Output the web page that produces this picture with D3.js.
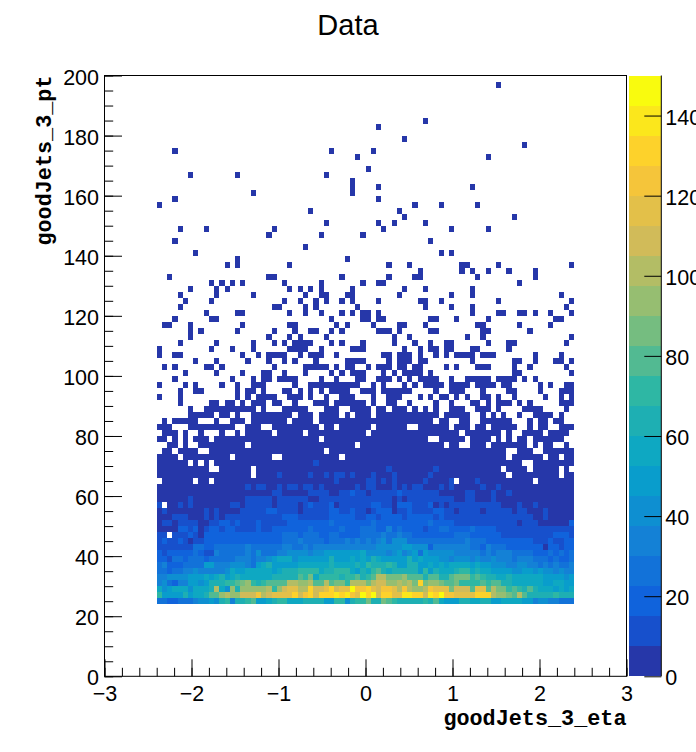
<!DOCTYPE html>
<html>
<head>
<meta charset="utf-8">
<title>Data</title>
<script src="https://d3js.org/d3.v7.min.js"></script>
<style>
    html, body { margin: 0; background: white; overflow: hidden; }
    text { font-family: "Liberation Sans", Arial, sans-serif; fill: black; }
    .axisTitle { font-family: "Liberation Mono", monospace; font-weight: bold; font-size: 21.8px; }
</style>
</head>
<body>
<div id="chart"></div>
<script>
// binning of the histogram
const etaRange = [-3, 3];
const ptRange = [0, 200];
const etaFirstEdge = -2.4;
const etaBin = 0.06;
const ptBin = 2;
const ptTop = 200;

const etaMajor = [-3, -2, -1, 0, 1, 2, 3];
const ptMajor = [0, 20, 40, 60, 80, 100, 120, 140, 160, 180, 200];
const zMajor = [0, 20, 40, 60, 80, 100, 120, 140];
const zMax = 150;
const zLevels = 20;
const birdStops = ["#351f87", "#0f5cdd", "#1481d6", "#06a4ca", "#2eb7a4", "#87bf77", "#d1bb59", "#fec832", "#f9fb0e"];

// low-count rows, top of the plot downwards: eta bins that hold any entries
const sparseRows = [
    [], [65], [], [], [], [], [], [51], [42], [], [47], [70],
    [3, 33, 41], [38, 63], [], [40], [6, 15, 32], [37], [37, 42, 60], [18, 37],
    [3, 42], [0, 49, 54, 61], [29, 46], [47, 68], [32, 42, 45, 51],
    [4, 9, 22, 43, 56, 63], [21, 31, 39], [3, 52], [28], [7, 54, 56],
    [15, 36],
    [13, 15, 25, 44, 48, 58, 59, 65, 79],
    [50, 58, 60, 63, 67, 72],
    [2, 21, 22, 35, 44, 49, 50, 61, 72],
    [10, 12, 14, 16, 24, 31, 39, 42, 43, 69],
    [6, 11, 13, 25, 27, 29, 31, 37, 47, 51, 60],
    [4, 11, 18, 28, 31, 32, 36, 37, 46, 56, 60, 77],
    [5, 10, 24, 27, 30, 32, 35, 37, 42, 50, 51, 54, 65, 79],
    [4, 22, 23, 28, 30, 38, 51, 56, 60, 78],
    [9, 15, 16, 25, 28, 31, 35, 37, 39, 40, 42, 60, 65, 66, 69, 70, 72, 75, 79],
    [3, 10, 11, 33, 39, 40, 42, 43, 52, 53, 57, 63, 76, 77],
    [1, 2, 6, 16, 25, 26, 34, 36, 41, 46, 47, 51, 61, 62, 69, 75],
    [6, 8, 15, 22, 26, 29, 30, 33, 35, 42, 43, 44, 46, 52, 53, 62, 63, 71],
    [6, 21, 25, 27, 32, 45, 48, 59, 62, 79],
    [4, 11, 18, 22, 24, 26, 27, 28, 29, 33, 35, 39, 45, 49, 52, 55, 56, 63, 67, 68, 78],
    [0, 10, 14, 18, 25, 26, 27, 28, 31, 37, 38, 39, 47, 50, 52, 53, 55, 56, 60, 61, 67],
    [0, 3, 4, 16, 19, 21, 22, 23, 24, 27, 29, 30, 31, 34, 43, 44, 46, 47, 48, 50, 53, 55, 57, 58, 59, 60, 62, 63, 64, 72, 77],
    [7, 11, 17, 21, 24, 26, 30, 36, 37, 38, 39, 44, 46, 47, 48, 50, 51, 60, 68, 69, 72, 76, 77, 79],
    [1, 3, 9, 10, 12, 22, 28, 29, 30, 31, 32, 34, 36, 37, 40, 42, 43, 44, 46, 47, 49, 50, 55, 57, 61, 62, 63, 68, 71, 78],
    [5, 11, 16, 20, 21, 24, 28, 33, 35, 37, 38, 39, 43, 45, 47, 48, 49, 50, 52, 68, 69, 79],
    [3, 14, 18, 20, 21, 23, 24, 25, 26, 31, 34, 38, 39, 42, 43, 44, 46, 48, 50, 51, 52, 53, 56, 59, 60, 61, 62, 63, 65, 66, 67, 68, 70, 72],
    [0, 5, 7, 12, 15, 18, 19, 20, 26, 29, 30, 31, 32, 33, 34, 35, 36, 37, 38, 41, 43, 47, 49, 51, 52, 53, 54, 56, 57, 58, 59, 61, 62, 63, 64, 66, 67, 73, 75, 78, 79],
    [4, 7, 8, 15, 17, 18, 20, 24, 25, 27, 29, 31, 33, 34, 35, 36, 39, 40, 41, 43, 44, 45, 46, 47, 48, 53, 56, 57, 58, 62, 67, 68, 73, 77, 78, 79],
    [0, 4, 15, 17, 19, 20, 21, 22, 25, 26, 27, 29, 32, 35, 36, 37, 41, 44, 45, 46, 50, 52, 54, 55, 57, 59, 62, 63, 65, 68, 74, 77, 79],
    [4, 10, 11, 13, 14, 16, 18, 19, 20, 22, 23, 26, 30, 31, 32, 34, 35, 36, 37, 38, 39, 41, 44, 45, 48, 53, 56, 60, 61, 63, 65, 66, 67, 69, 71, 77, 78, 79],
    [6, 9, 10, 11, 12, 13, 14, 15, 16, 17, 18, 20, 24, 25, 26, 27, 28, 32, 33, 34, 37, 38, 39, 40, 42, 43, 45, 46, 47, 49, 51, 53, 56, 57, 58, 61, 62, 63, 65, 70, 71, 72, 73, 78],
    [6, 7, 8, 9, 10, 12, 13, 15, 18, 19, 20, 21, 22, 23, 24, 25, 27, 28, 29, 31, 32, 33, 34, 36, 38, 39, 40, 42, 43, 44, 45, 46, 47, 48, 49, 50, 51, 52, 53, 55, 56, 57, 58, 59, 62, 64, 66, 69, 72, 73, 74, 75, 77],
    [1, 3, 4, 5, 6, 7, 11, 14, 15, 16, 18, 19, 20, 21, 22, 23, 24, 26, 27, 28, 29, 31, 32, 33, 34, 35, 36, 37, 38, 39, 40, 41, 42, 43, 44, 45, 46, 47, 48, 49, 50, 51, 52, 54, 55, 58, 59, 62, 63, 64, 65, 66, 67, 71, 73, 74, 76, 77],
    [0, 1, 2, 6, 7, 8, 9, 10, 11, 12, 13, 14, 17, 18, 19, 22, 23, 24, 25, 26, 27, 28, 29, 30, 32, 33, 35, 36, 37, 38, 39, 40, 42, 43, 44, 45, 46, 47, 50, 51, 52, 53, 54, 55, 57, 58, 59, 61, 62, 64, 65, 66, 67, 68, 71, 73, 74, 77, 78, 79]
];

// dense rows carry on below them: one character per eta bin, the z contour
// read off the colour (base 20), "." where the bin is empty
const denseRows = [
    ".000.0..0. ..0..0.000 00.00000.0 0000000000 .000000000 00000000.0 000000.0.. 0000.0000.",
    "00.0.0.000 .000000000 0000000000 0.00000000 0000000000 00..00000. 0000.0.0.0 0.000000..",
    "..00.0..00 0000000.00 0000000000 00000000.0 0000000000 00000.00.. 000.000000 0.0.00..0.",
    ".00.0000.. 0000000000 0000000000 00.0000000 0000000000 0000000000 0000000..0 00..000000",
    "0000.00000 0000.00000 00..000000 00000.0000 0000000000 0000000000 0000000.00 0000.00.00",
    "000000.0.0 .000000000 0000000000 1000000000 0000000000 0000000000 0000000000 ..00000000",
    "0000000000 ..000000.0 0000000000 0000000000 0000100000 0001000000 000000.000 0.00000.0.",
    "0000000000 00000000.0 0001000001 0010110100 0100010000 0010000000 0000000.00 0000000.00",
    ".000000.00 .000000000 0000000000 0000100000 1101010000 0100001.00 0100000000 00.0000000",
    "0000000000 0000000101 1001011011 0100000010 1100010101 1000101000 0010010000 0000000000",
    "0000000000 0000000000 0011000001 1110011211 0111112111 1111000001 1000100100 0000000000",
    "0000001000 0000000111 1101111110 0111111111 1111101011 1111111001 1000100000 0000000000",
    "1.00101000 0000110111 1101111012 1112011111 1221102221 1120101111 1111110001 0010000000",
    "0100000001 0100001111 1221111011 1112211211 0122201121 1112211011 1101111101 1000100000",
    "0001110001 0101111111 1111222111 1112222211 2212222122 2221211111 1111111111 1100100000",
    "0110111100 1122121112 1111122222 2223222222 2322222222 2232222111 1111111110 1110000002",
    "0000221201 2212211112 1122222223 2222232223 3322423222 2122332222 3222211111 1111111111",
    "11.1112102 2222222222 2222333233 3223322223 3334334332 2222222333 2222221111 1111112221",
    "1211210112 2222222222 2222333433 3323334343 4345355533 3333333334 3332222222 2211121122",
    "1111111332 2333333433 3333443343 4444444444 4455555665 5524444444 3324333222 2222022122",
    "2122222321 1433333435 3334455554 5566666667 5555456456 3655555444 4434344433 3322232323",
    "2213323332 3333344434 4567775666 6668666767 6876666686 7666554555 4544544434 4433323223",
    "3422233336 6444555436 7866666777 7778777787 9888986688 6676767777 6766555445 5443434334",
    "3323344544 4445766777 7767888999 9788999768 79a8788888 6968777899 7877666655 6656554544",
    "4455556667 6786787777 7788888a9b 79999899a8 9addbbbcaa a8aa88abbb 9a98877877 7777666656",
    "4532446656 88899abc98 9aaaaddccd aadabb9ddd bdeeccdcdb hbccbaab99 99a9aa8877 7777667766",
    "7567775777 8d75c8cccc cd9ceffddh eefheffjgg hfeggfdgdc cdgfffbeee affadbb9a9 8a87776767",
    "9666686778 aacdcceeeg deffffhegh ehhhihigfj hjehhffiih heihjggfff fhhhdccbad a888889888",
    "3322333455 65894889a6 6789977788 8866995899 b88ba98888 898a766688 7788667777 6645544333"
];

const width = 696, height = 752;
const x = d3.scaleLinear().domain(etaRange).range([104.5, 626.5]);
const y = d3.scaleLinear().domain(ptRange).range([676.3, 75.5]);
const z = d3.scaleLinear().domain([0, zMax]).range([676.3, 75.5]);
const bird = d3.piecewise(d3.interpolateRgb, birdStops);
const levelColor = level => bird((level + 1) / zLevels);
const labelSize = "21.5px";

const svg = d3.select("#chart").append("svg")
    .attr("width", width)
    .attr("height", height)
    .style("display", "block");

// collect the filled bins
const cells = [];
sparseRows.forEach((cols, row) => {
    cols.forEach(col => cells.push({col: col, row: row, level: 0}));
});
denseRows.forEach((text, i) => {
    text.replace(/ /g, "").split("").forEach((ch, col) => {
        if (ch !== ".") cells.push({col: col, row: sparseRows.length + i, level: parseInt(ch, 20)});
    });
});

svg.append("g")
    .attr("shape-rendering", "crispEdges")
    .selectAll("rect")
    .data(cells)
    .join("rect")
    .attr("x", d => x(etaFirstEdge + d.col * etaBin))
    .attr("y", d => y(ptTop - d.row * ptBin))
    .attr("width", d => x(etaFirstEdge + (d.col + 1) * etaBin) - x(etaFirstEdge + d.col * etaBin))
    .attr("height", d => y(ptTop - (d.row + 1) * ptBin) - y(ptTop - d.row * ptBin))
    .attr("fill", d => levelColor(d.level));

// axes, major and minor ticks point into the frame
const etaMinor = d3.range(-3, 3.001, 0.2);
const ptMinor = d3.range(0, 200.001, 5);

svg.append("g")
    .attr("class", "axis")
    .attr("transform", `translate(0,${y(0)})`)
    .call(d3.axisBottom(x).tickValues(etaMinor).tickSize(-8.5).tickFormat(""));
const xAxis = svg.append("g")
    .attr("class", "axis")
    .attr("transform", `translate(0,${y(0)})`)
    .call(d3.axisBottom(x).tickValues(etaMajor).tickSize(-17).tickFormat(d3.format("d")));
xAxis.selectAll("text").attr("y", 25).attr("dy", 0);

svg.append("g")
    .attr("class", "axis")
    .attr("transform", `translate(${x(-3)},0)`)
    .call(d3.axisLeft(y).tickValues(ptMinor).tickSize(-8.7).tickFormat(""));
const yAxis = svg.append("g")
    .attr("class", "axis")
    .attr("transform", `translate(${x(-3)},0)`)
    .call(d3.axisLeft(y).tickValues(ptMajor).tickSize(-17.5));
yAxis.selectAll("text").attr("x", -5.5).attr("dy", 8.5);

svg.selectAll(".axis .domain").remove();
svg.selectAll(".axis text").style("font-size", labelSize).style("font-family", "'Liberation Sans'");

svg.append("rect")
    .attr("x", x(-3))
    .attr("y", y(200))
    .attr("width", x(3) - x(-3))
    .attr("height", y(0) - y(200))
    .attr("fill", "none")
    .attr("stroke", "black");

// palette on the right
const barLeft = 629, barRight = 661.3;
const levelEdges = d3.range(zLevels);
svg.append("g")
    .attr("shape-rendering", "crispEdges")
    .selectAll("rect")
    .data(levelEdges)
    .join("rect")
    .attr("x", barLeft)
    .attr("width", barRight - barLeft)
    .attr("y", d => z((d + 1) * zMax / zLevels))
    .attr("height", d => z(d * zMax / zLevels) - z((d + 1) * zMax / zLevels))
    .attr("fill", d => levelColor(d));

const zAxis = svg.append("g")
    .attr("class", "zaxis")
    .attr("transform", `translate(${barRight},0)`)
    .call(d3.axisRight(z).tickValues(zMajor).tickSize(-17));
zAxis.select(".domain").attr("d", `M0,${z(zMax)}V${z(0)}`);
zAxis.selectAll("text").attr("x", 4).attr("dy", 8.5)
    .style("font-size", labelSize).style("font-family", "'Liberation Sans'");

// titles
svg.append("text")
    .attr("x", 348)
    .attr("y", 35)
    .attr("text-anchor", "middle")
    .style("font-size", "29px")
    .text("Data");

svg.append("text")
    .attr("class", "axisTitle")
    .attr("x", x(3))
    .attr("y", 725)
    .attr("text-anchor", "end")
    .text("goodJets_3_eta");

svg.append("text")
    .attr("class", "axisTitle")
    .attr("transform", `translate(51,${y(200)}) rotate(-90)`)
    .attr("text-anchor", "end")
    .text("goodJets_3_pt");
</script>
</body>
</html>
